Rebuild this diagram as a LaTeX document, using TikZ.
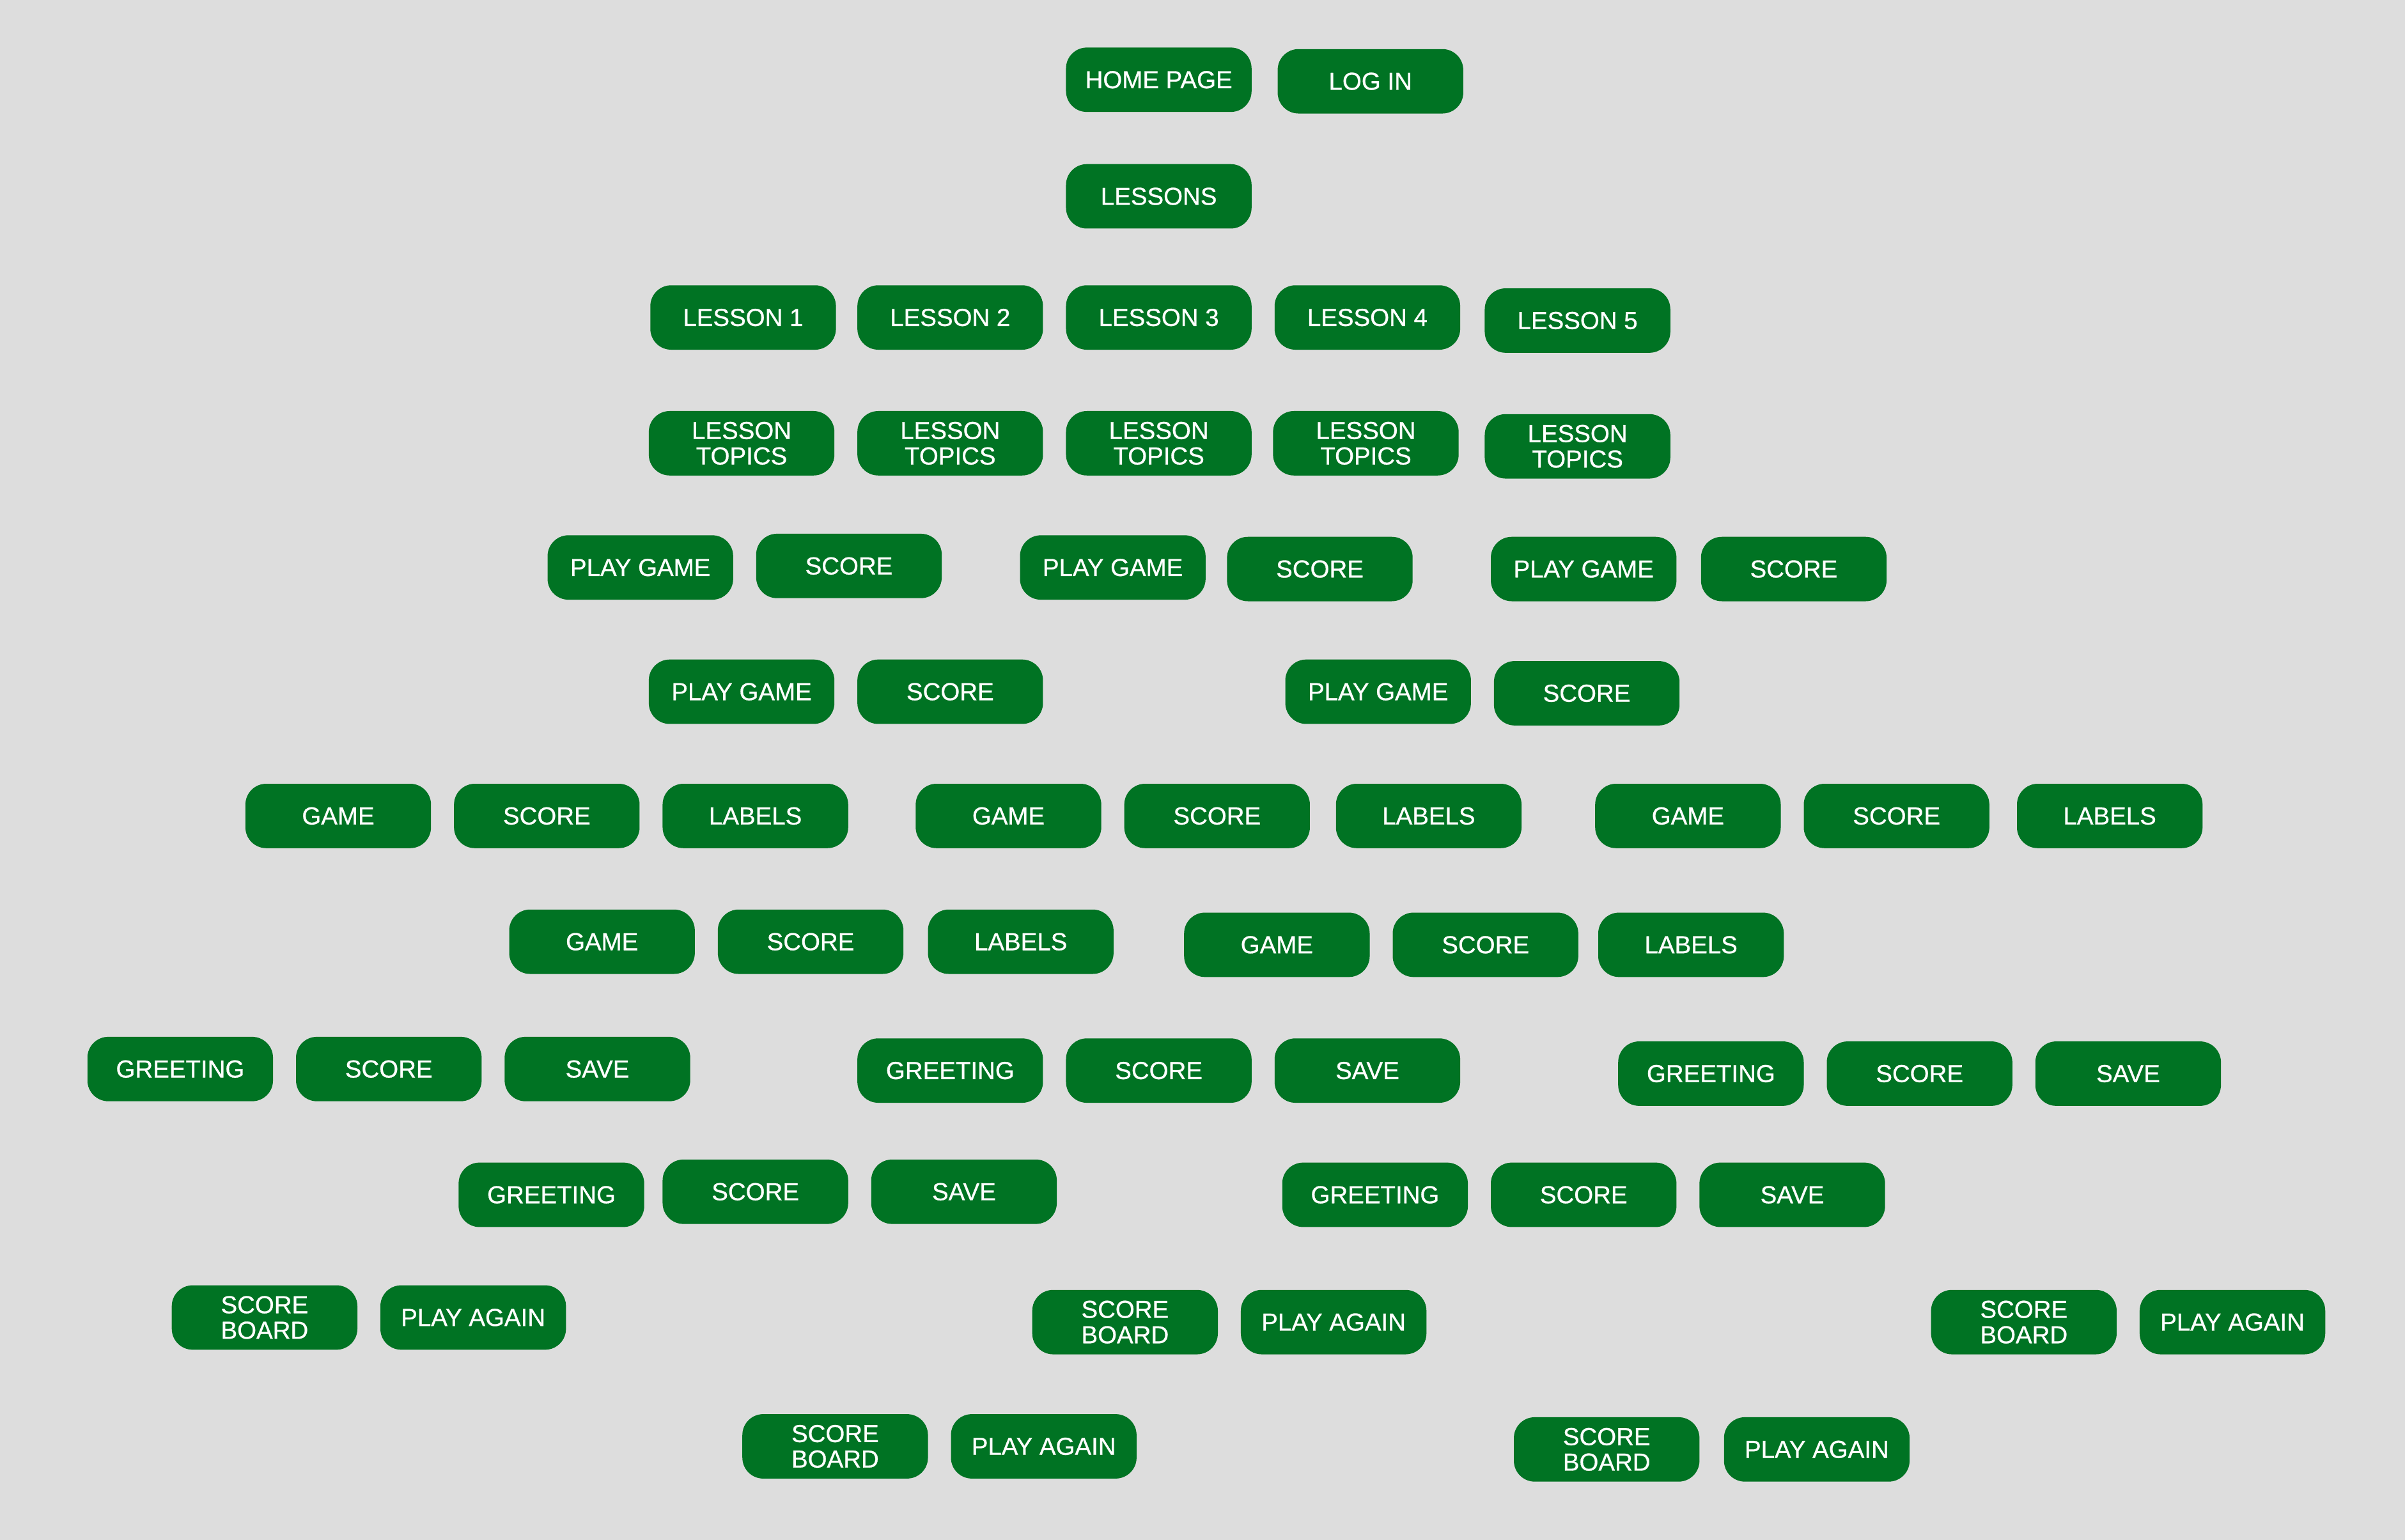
\documentclass[tikz,border=0pt]{standalone}
\usepackage{fontspec}
\setmainfont{Liberation Sans}[FakeBold=0.7]
\usepackage{tikz}
\usetikzlibrary{positioning}
\definecolor{btngreen}{RGB}{0,115,35}
\definecolor{bggray}{RGB}{221,221,221}

\begin{document}
\begin{tikzpicture}[x=0.25mm, y=-0.25mm,
    btn/.style={fill=btngreen, text=white, rounded corners=3.4mm, minimum width=30.25mm,
        minimum height=10.5mm, inner sep=0pt, align=center,
        font=\fontsize{11.4}{11.8}\selectfont}]

% background, fixes the page size
\fill[bggray] (0,0) rectangle (1568,1004);

% top
\node[btn] (home) at (755.5,52) {HOME PAGE};
\node[btn] (login) at (893.5,53) {LOG IN};
\node[btn] (lessons) at (755.5,128) {LESSONS};

% lessons and their topics
\node[btn] (les1) at (484.5,207) {LESSON 1};
\node[btn] (les2) at (619.5,207) {LESSON 2};
\node[btn] (les3) at (755.5,207) {LESSON 3};
\node[btn] (les4) at (891.5,207) {LESSON 4};
\node[btn] (les5) at (1028.5,209) {LESSON 5};

\node[btn] (top1) at (483.5,289) {LESSON\\TOPICS};
\node[btn] (top2) at (619.5,289) {LESSON\\TOPICS};
\node[btn] (top3) at (755.5,289) {LESSON\\TOPICS};
\node[btn] (top4) at (890.5,289) {LESSON\\TOPICS};
\node[btn] (top5) at (1028.5,291) {LESSON\\TOPICS};

% play game / score
\node[btn] (play1) at (417.5,370) {PLAY GAME};
\node[btn] (score1) at (553.5,369) {SCORE};
\node[btn] (play2) at (725.5,370) {PLAY GAME};
\node[btn] (score2) at (860.5,371) {SCORE};
\node[btn] (play3) at (1032.5,371) {PLAY GAME};
\node[btn] (score3) at (1169.5,371) {SCORE};

\node[btn] (play4) at (483.5,451) {PLAY GAME};
\node[btn] (score4) at (619.5,451) {SCORE};
\node[btn] (play5) at (898.5,451) {PLAY GAME};
\node[btn] (score5) at (1034.5,452) {SCORE};

% game / score / labels
\node[btn] (game1) at (220.5,532) {GAME};
\node[btn] (gscore1) at (356.5,532) {SCORE};
\node[btn] (labels1) at (492.5,532) {LABELS};
\node[btn] (game2) at (657.5,532) {GAME};
\node[btn] (gscore2) at (793.5,532) {SCORE};
\node[btn] (labels2) at (931.5,532) {LABELS};
\node[btn] (game3) at (1100.5,532) {GAME};
\node[btn] (gscore3) at (1236.5,532) {SCORE};
\node[btn] (labels3) at (1375.5,532) {LABELS};

\node[btn] (game4) at (392.5,614) {GAME};
\node[btn] (gscore4) at (528.5,614) {SCORE};
\node[btn] (labels4) at (665.5,614) {LABELS};
\node[btn] (game5) at (832.5,616) {GAME};
\node[btn] (gscore5) at (968.5,616) {SCORE};
\node[btn] (labels5) at (1102.5,616) {LABELS};

% greeting / score / save
\node[btn] (greet1) at (117.5,697) {GREETING};
\node[btn] (sscore1) at (253.5,697) {SCORE};
\node[btn] (save1) at (389.5,697) {SAVE};
\node[btn] (greet2) at (619.5,698) {GREETING};
\node[btn] (sscore2) at (755.5,698) {SCORE};
\node[btn] (save2) at (891.5,698) {SAVE};
\node[btn] (greet3) at (1115.5,700) {GREETING};
\node[btn] (sscore3) at (1251.5,700) {SCORE};
\node[btn] (save3) at (1387.5,700) {SAVE};

\node[btn] (greet4) at (359.5,779) {GREETING};
\node[btn] (sscore4) at (492.5,777) {SCORE};
\node[btn] (save4) at (628.5,777) {SAVE};
\node[btn] (greet5) at (896.5,779) {GREETING};
\node[btn] (sscore5) at (1032.5,779) {SCORE};
\node[btn] (save5) at (1168.5,779) {SAVE};

% score board / play again
\node[btn] (board1) at (172.5,859) {SCORE\\BOARD};
\node[btn] (again1) at (308.5,859) {PLAY AGAIN};
\node[btn] (board2) at (733.5,862) {SCORE\\BOARD};
\node[btn] (again2) at (869.5,862) {PLAY AGAIN};
\node[btn] (board3) at (1319.5,862) {SCORE\\BOARD};
\node[btn] (again3) at (1455.5,862) {PLAY AGAIN};

\node[btn] (board4) at (544.5,943) {SCORE\\BOARD};
\node[btn] (again4) at (680.5,943) {PLAY AGAIN};
\node[btn] (board5) at (1047.5,945) {SCORE\\BOARD};
\node[btn] (again5) at (1184.5,945) {PLAY AGAIN};
\end{tikzpicture}
\end{document}
